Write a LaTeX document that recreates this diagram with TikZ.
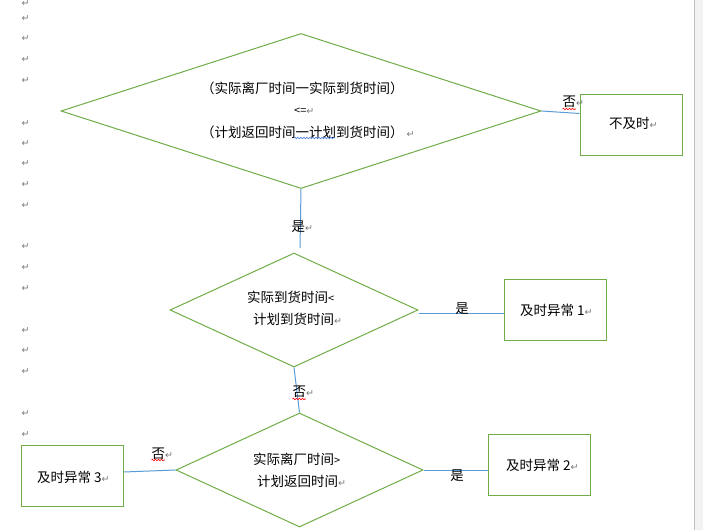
\documentclass[tikz,border=0pt]{standalone}
\usepackage{fontspec}
\newfontfamily\cjk{Noto Sans CJK SC}
\newfontfamily\dvs{DejaVu Sans}
\usetikzlibrary{shapes.geometric,decorations.pathmorphing}
\definecolor{grn}{HTML}{70AD47}
\definecolor{blu}{HTML}{5B9BD5}
\definecolor{mk}{HTML}{7A7A7A}
\definecolor{edgegray}{HTML}{C0C0C0}
\definecolor{offpage}{HTML}{F2F2F2}
\newcommand\parmark{{\dvs\fontsize{9.5}{9.5}\selectfont\color{mk}↵}}
\begin{document}
\begin{tikzpicture}[x=1pt,y=-1pt,
  dia/.style={diamond, draw=grn, line width=1pt, inner sep=0pt},
  box/.style={rectangle, draw=grn, line width=1pt, inner sep=0pt, minimum width=102pt, minimum height=61pt},
  conn/.style={draw=blu, line width=1pt},
  txt/.style={inner sep=0pt, anchor=west, font=\cjk\fontsize{13.5}{16}\selectfont},
  lbl/.style={inner sep=0pt, font=\cjk\fontsize{13.5}{16}\selectfont},
  redwave/.style={draw=red, line width=0.6pt, decorate, decoration={snake, segment length=3pt, amplitude=0.8pt}},
  bluewave/.style={draw=blu!80!blue, line width=0.6pt, decorate, decoration={snake, segment length=3pt, amplitude=0.8pt}}
]
\fill[white] (0,0) rectangle (703,530);
\useasboundingbox (0,0) rectangle (703,530);
\fill[offpage] (694.5,0) rectangle (703,530);
\draw[edgegray, line width=1pt] (694.5,0) -- (694.5,530);

% paragraph marks in left margin
\foreach \yy [count=\i] in {4,18.3,39,60,80.7,123.3,143.3,164,184.3,205.7,246.7,267.3,288.3,330.7,351,371.7,414,435}
  \node[inner sep=0pt] (pm\i) at (25.5,\yy) {\parmark};

% diamonds
\node[dia, minimum width=480pt, minimum height=155pt] (d1) at (301,111) {};
\node[dia, minimum width=248pt, minimum height=114pt] (d2) at (294,310) {};
\node[dia, minimum width=247pt, minimum height=114pt] (d3) at (299.5,470) {};

% boxes
\node[box] (nj) at (631,124.5) {};
\node[box] (b1) at (555,309.5) {};
\node[box] (b2) at (539.5,464.5) {};
\node[box] (b3) at (72,475.5) {};

\coordinate (c1) at (300,248);

% connectors
\draw[conn] (d1.east) -- ([yshift=11pt]nj.west);
\draw[conn] (d1.south) -- (c1);
\draw[conn] ([yshift=-3pt]d2.east) -- ([yshift=-3pt]d2.east -| b1.west);
\draw[conn] (d2.south) -- (d3.north);
\draw[conn] (d3.east) -- (d3.east -| b2.west);
\draw[conn] ([yshift=3.5pt]b3.east) -- (d3.west);

% diamond texts
\node[txt] (t1a) at (201,88) {（实际离厂时间一实际到货时间）};
\node[txt] (t1b) at (294,111) {{\fontsize{11}{13}\selectfont <=}\parmark};
\node[txt] (t1c) at (201,132) {（计划返回时间一计划到货时间）\hspace{3pt}\parmark};
\node[txt] (t2a) at (247,297) {实际到货时间{\fontsize{11}{13}\selectfont <}};
\node[txt] (t2b) at (253,319) {计划到货时间\parmark};
\node[txt] (t3a) at (253,459) {实际离厂时间{\fontsize{11}{13}\selectfont >}};
\node[txt] (t3b) at (257,481) {计划返回时间\parmark};

% box texts
\node[txt] (tnj) at (609,123) {不及时\parmark};
\node[txt] (tb1) at (520,310) {及时异常 1\parmark};
\node[txt] (tb2) at (506,465) {及时异常 2\parmark};
\node[txt] (tb3) at (37,477) {及时异常 3\parmark};

% connector labels
\node[txt] (l1) at (562.5,102) {否\parmark};
\node[txt] (l2) at (291.5,227) {是\parmark};
\node[lbl] (l3) at (462,309) {是};
\node[txt] (l4) at (292.5,392) {否\parmark};
\node[txt] (l5) at (151.5,454) {否\parmark};
\node[lbl] (l6) at (457,476) {是};

% spell-check underlines
\draw[redwave] (562.5,109) -- (576,109);
\draw[redwave] (292.5,399) -- (306,399);
\draw[redwave] (151.5,460) -- (165,460);
\draw[bluewave] (294,138) -- (335,138);
\end{tikzpicture}
\end{document}
